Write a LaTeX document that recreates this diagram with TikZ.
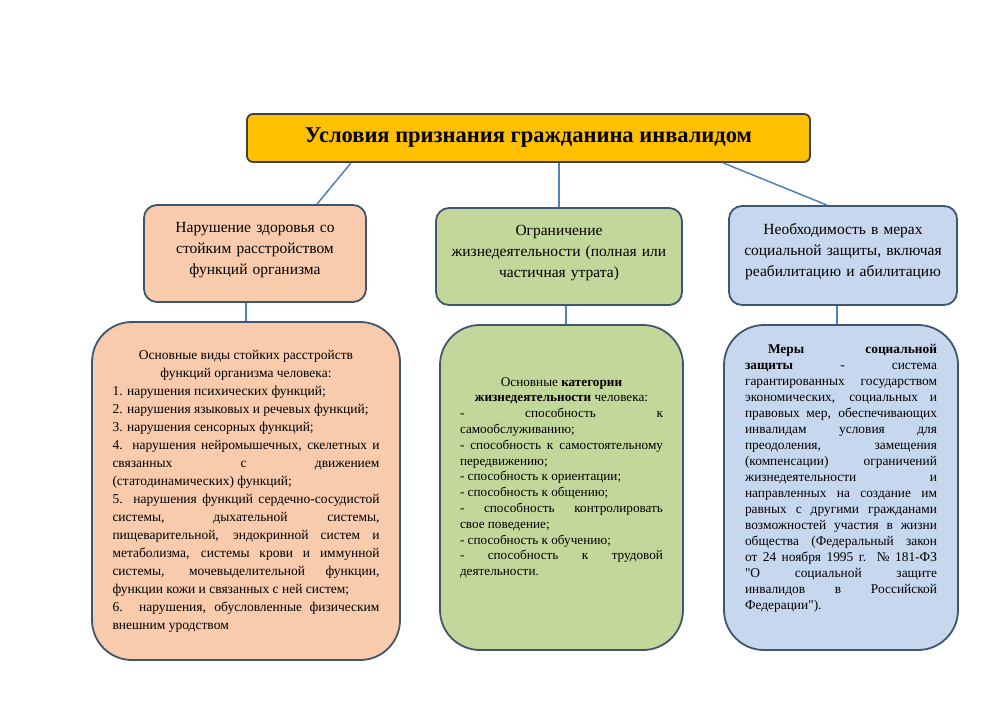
\documentclass[tikz,border=0pt]{standalone}
\usepackage{fontspec}
\setmainfont{Liberation Serif}
\newfontfamily\plainq{Liberation Serif}
\usetikzlibrary{calc}
\definecolor{gold}{HTML}{FFC000}
\definecolor{peach}{HTML}{F8CBAD}
\definecolor{lgreen}{HTML}{C4D79B}
\definecolor{lblue}{HTML}{C6D7EE}
\definecolor{bordercol}{HTML}{3F5570}
\definecolor{titleborder}{HTML}{404040}
\definecolor{conncol}{HTML}{4F81BD}
\newcommand{\sq}{{\plainq\symbol{34}}}
\newcommand{\setpar}{\parindent=0pt\tolerance=10000\spaceskip=0.25em plus 2em minus 0.1em\relax}
\begin{document}
\begin{tikzpicture}[x=1pt,y=-1pt,
  titlebox/.style={draw=titleborder, fill=gold, line width=1.8pt, rounded corners=6pt, inner sep=0pt, align=center},
  topbox/.style={draw=bordercol, line width=1.8pt, rounded corners=13pt, inner sep=0pt, align=center,
    text width=220pt, font=\fontsize{15.5}{21}\selectfont},
  bigbox/.style={draw=bordercol, line width=1.8pt, rounded corners=40pt, inner sep=0pt, align=justify},
  conn/.style={draw=conncol, line width=1.5pt}
]
\useasboundingbox (0,0) rectangle (1000,706);
\fill[white] (0,0) rectangle (1000,706);

\node[titlebox, minimum width=563pt, minimum height=48pt] (title) at (528.5,138)
  {\fontsize{22.5}{26}\selectfont\bfseries Условия признания гражданина инвалидом};

\node[topbox, fill=peach, minimum width=222pt, minimum height=97pt] (A) at (255,253.5)
  {Нарушение здоровья со\\стойким расстройством\\функций организма\par\vspace{-10pt}\hbox{}};
\node[topbox, fill=lgreen, minimum width=246pt, minimum height=97pt] (B) at (559,256.5)
  {Ограничение\\жизнедеятельности (полная или\\частичная утрата)\par\vspace{-10pt}\hbox{}};
\node[topbox, fill=lblue, minimum width=228pt, minimum height=99pt] (C) at (843,255.5)
  {Необходимость в мерах\\социальной защиты, включая\\реабилитацию и абилитацию\par\vspace{-10pt}\hbox{}};

\node[bigbox, fill=peach, minimum width=308pt, minimum height=338pt, text width=267pt,
  font=\fontsize{13.5}{18}\selectfont] (D) at (246,491)
  {\setpar
   \centerline{Основные виды стойких расстройств}
   \centerline{функций организма человека:}
   1. нарушения психических функций;\par
   2. нарушения языковых и речевых функций;\par
   3. нарушения сенсорных функций;\par
   4. нарушения нейромышечных, скелетных и\linebreak
   связанных с движением\linebreak
   (статодинамических) функций;\par
   5. нарушения функций сердечно-сосудистой\linebreak
   системы, дыхательной системы,\linebreak
   пищеварительной, эндокринной систем и\linebreak
   метаболизма, системы крови и иммунной\linebreak
   системы, мочевыделительной функции,\linebreak
   функции кожи и связанных с ней систем;\par
   6. нарушения, обусловленные физическим\linebreak
   внешним уродством\par};

\node[bigbox, fill=lgreen, minimum width=243pt, minimum height=325pt, text width=203pt,
  font=\fontsize{13.2}{15.8}\selectfont] (E) at (561.5,487.5)
  {\setpar
   \centerline{Основные \textbf{категории}}
   \centerline{\textbf{жизнедеятельности} человека:}
   - способность к\linebreak
   самообслуживанию;\par
   - способность к самостоятельному\linebreak
   передвижению;\par
   - способность к ориентации;\par
   - способность к общению;\par
   - способность контролировать\linebreak
   свое поведение;\par
   - способность к обучению;\par
   - способность к трудовой\linebreak
   деятельности.\par
   \vspace{6pt}\hbox{}};

\node[bigbox, fill=lblue, minimum width=234pt, minimum height=325pt, text width=192pt,
  font=\fontsize{13.4}{16}\selectfont] (F) at (841,487.5)
  {\setpar
   \hspace*{23pt}\textbf{Меры социальной}\linebreak
   \textbf{защиты} - система\linebreak
   гарантированных государством\linebreak
   экономических, социальных и\linebreak
   правовых мер, обеспечивающих\linebreak
   инвалидам условия для\linebreak
   преодоления, замещения\linebreak
   (компенсации) ограничений\linebreak
   жизнедеятельности и\linebreak
   направленных на создание им\linebreak
   равных с другими гражданами\linebreak
   возможностей участия в жизни\linebreak
   общества (Федеральный закон\linebreak
   от 24 ноября 1995 г. № 181-ФЗ\linebreak
   \sq О социальной защите\linebreak
   инвалидов в Российской\linebreak
   Федерации\sq).\par
   \vspace{6pt}\hbox{}};

\draw[conn] ($(title.south)+(-177.5,0)$) -- ($(A.north)+(62,0)$);
\draw[conn] (title.south -| B.north) -- (B.north);
\draw[conn] ($(title.south)+(194.5,0)$) -- ($(C.north)+(-16,0)$);
\draw[conn] (D.north |- A.south) -- (D.north);
\draw[conn] ($(B.south)+(7,0)$) -- ($(E.north)+(4.5,0)$);
\draw[conn] ($(C.south)+(-6,0)$) -- ($(F.north)+(-4,0)$);
\end{tikzpicture}
\end{document}
